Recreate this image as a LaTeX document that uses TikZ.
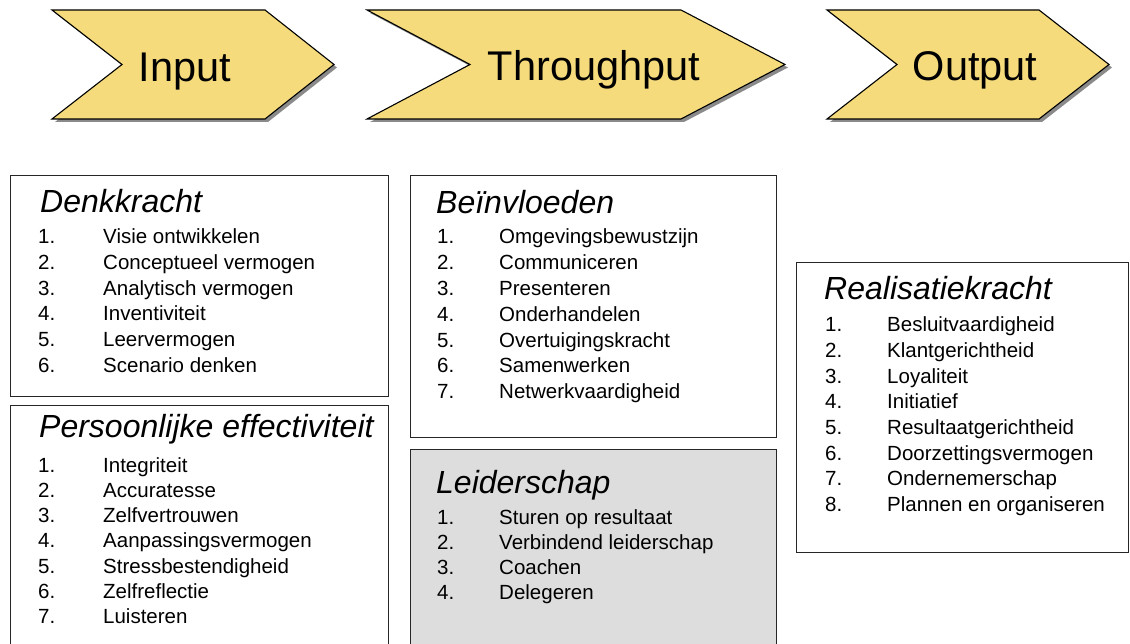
\documentclass[tikz,border=0pt]{standalone}
\usepackage{fontspec}
\setmainfont{Liberation Sans}
\definecolor{chevfill}{HTML}{F5DB7C}
\definecolor{leadfill}{HTML}{DDDDDD}
\definecolor{shadowgray}{HTML}{8A8A8A}
\newcommand\complist[6]{% prefix, num x, text x, first baseline, spacing, items
  \foreach \t [count=\i] in {#6} {
    \node[num] (#1n\i) at (#2, {#4+(\i-1)*#5}) {\i.};
    \node[itm] (#1i\i) at (#3, {#4+(\i-1)*#5}) {\t};
  }}
\begin{document}
\begin{tikzpicture}[x=1pt,y=-1pt,
  chev/.style={fill=chevfill, draw=black, line width=1.1pt, line join=miter},
  chevshadow/.style={fill=shadowgray},
  big/.style={font=\fontsize{41.5}{48}\selectfont, anchor=base, inner sep=0},
  box/.style={draw=black!85, line width=1.4pt, rectangle, inner sep=0, anchor=north west},
  ttl/.style={font=\fontsize{32}{36}\selectfont\itshape, anchor=base west, inner sep=0},
  num/.style={font=\fontsize{20.5}{24}\selectfont, anchor=base west, inner sep=0},
  itm/.style={font=\fontsize{20.5}{24}\selectfont, anchor=base west, inner sep=0}]
\clip (0,0) rectangle (1130,644);
\useasboundingbox (0,0) rectangle (1130,644);
% chevron shadows
\begin{scope}[shift={(3,3)}]
\fill[chevshadow] (52,10) -- (265,10) -- (334,64.5) -- (265,119) -- (52,119) -- (122,64.5) -- cycle;
\fill[chevshadow] (367,10) -- (681,10) -- (785,64.5) -- (681,119) -- (367,119) -- (470,64.5) -- cycle;
\fill[chevshadow] (827,10) -- (1039,10) -- (1109,64.5) -- (1039,119) -- (827,119) -- (897,64.5) -- cycle;
\end{scope}
% chevrons
\draw[chev] (52,10) -- (265,10) -- (334,64.5) -- (265,119) -- (52,119) -- (122,64.5) -- cycle;
\draw[chev] (367,10) -- (681,10) -- (785,64.5) -- (681,119) -- (367,119) -- (470,64.5) -- cycle;
\draw[chev] (827,10) -- (1039,10) -- (1109,64.5) -- (1039,119) -- (827,119) -- (897,64.5) -- cycle;
\node[big] (input) at (185,82) {Input};
\node[big] (throughput) at (594,81) {Throughput};
\node[big] (output) at (975,81) {Output};
% boxes
\node[box, minimum width=378pt, minimum height=221pt] (denk) at (10,175) {};
\node[box, minimum width=378pt, minimum height=300pt] (pers) at (10,405) {};
\node[box, minimum width=366pt, minimum height=262pt] (bein) at (410,175) {};
\node[box, fill=leadfill, minimum width=366pt, minimum height=300pt] (leid) at (410,449) {};
\node[box, minimum width=332pt, minimum height=290pt] (real) at (796,262) {};
% titles
\node[ttl] (denkt) at (40,213) {Denkkracht};
\node[ttl] (perst) at (39,437) {Persoonlijke effectiviteit};
\node[ttl] (beint) at (436,214) {Beïnvloeden};
\node[ttl] (leidt) at (436,493) {Leiderschap};
\node[ttl] (realt) at (824,300) {Realisatiekracht};
% lists
\complist{dk}{38}{103}{244}{25.6}{Visie ontwikkelen,Conceptueel vermogen,Analytisch vermogen,Inventiviteit,Leervermogen,Scenario denken}
\complist{pe}{38}{103}{472}{25.3}{Integriteit,Accuratesse,Zelfvertrouwen,Aanpassingsvermogen,Stressbestendigheid,Zelfreflectie,Luisteren}
\complist{be}{437}{499}{244}{25.8}{Omgevingsbewustzijn,Communiceren,Presenteren,Onderhandelen,Overtuigingskracht,Samenwerken,Netwerkvaardigheid}
\complist{le}{437}{499}{524}{25.3}{Sturen op resultaat,Verbindend leiderschap,Coachen,Delegeren}
\complist{re}{825}{887}{332}{25.6}{Besluitvaardigheid,Klantgerichtheid,Loyaliteit,Initiatief,Resultaatgerichtheid,Doorzettingsvermogen,Ondernemerschap,Plannen en organiseren}
\end{tikzpicture}
\end{document}
